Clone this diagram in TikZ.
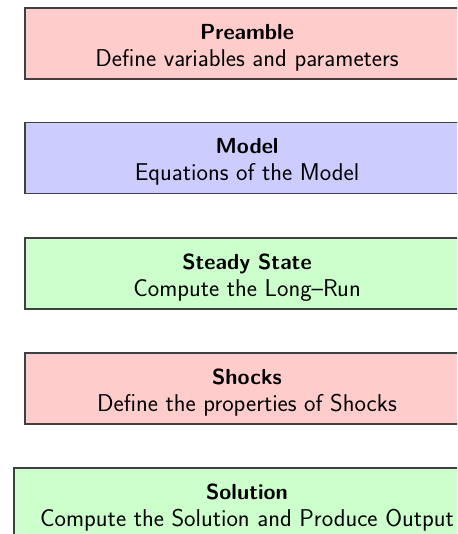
\documentclass[tikz,border=0pt]{standalone}
\usepackage{fontspec}
\newcommand{\boxtitle}[1]{{\fontsize{21.8}{27}\selectfont\bfseries #1}}
\begin{document}
\begin{tikzpicture}[x=1pt,y=-1pt,
  box/.style={draw=black!75, line width=1.2pt, rectangle, minimum height=71pt, inner sep=0pt},
  pinkbox/.style={box, fill=red!20},
  bluebox/.style={box, fill=blue!20},
  greenbox/.style={box, fill=green!20},
  txt/.style={align=center, inner sep=0pt, font=\sffamily\fontsize{24.3}{27}\selectfont}]
\useasboundingbox (0,0) rectangle (457,534);
\clip (0,0) rectangle (457,534);
\node[pinkbox, minimum width=444pt] (pre) at (247,43.5) {};
\node[bluebox, minimum width=444pt] (mod) at (247,158) {};
\node[greenbox, minimum width=444pt] (ss) at (247,273.5) {};
\node[pinkbox, minimum width=444pt] (sh) at (247,388.5) {};
\node[greenbox, minimum width=466pt] (sol) at (247,503.5) {};
\node[txt] (pret) at ([yshift=-4pt]pre.center) {\boxtitle{Preamble}\\Define variables and parameters};
\node[txt] (modt) at ([yshift=-4pt]mod.center) {\boxtitle{Model}\\Equations of the Model};
\node[txt] (sst) at ([yshift=-4pt]ss.center) {\boxtitle{Steady State}\\Compute the Long--Run};
\node[txt] (sht) at ([yshift=-4pt]sh.center) {\boxtitle{Shocks}\\Define the properties of Shocks};
\node[txt] (solt) at ([yshift=-4pt]sol.center) {\boxtitle{Solution}\\Compute the Solution and Produce Output};
\end{tikzpicture}
\end{document}
